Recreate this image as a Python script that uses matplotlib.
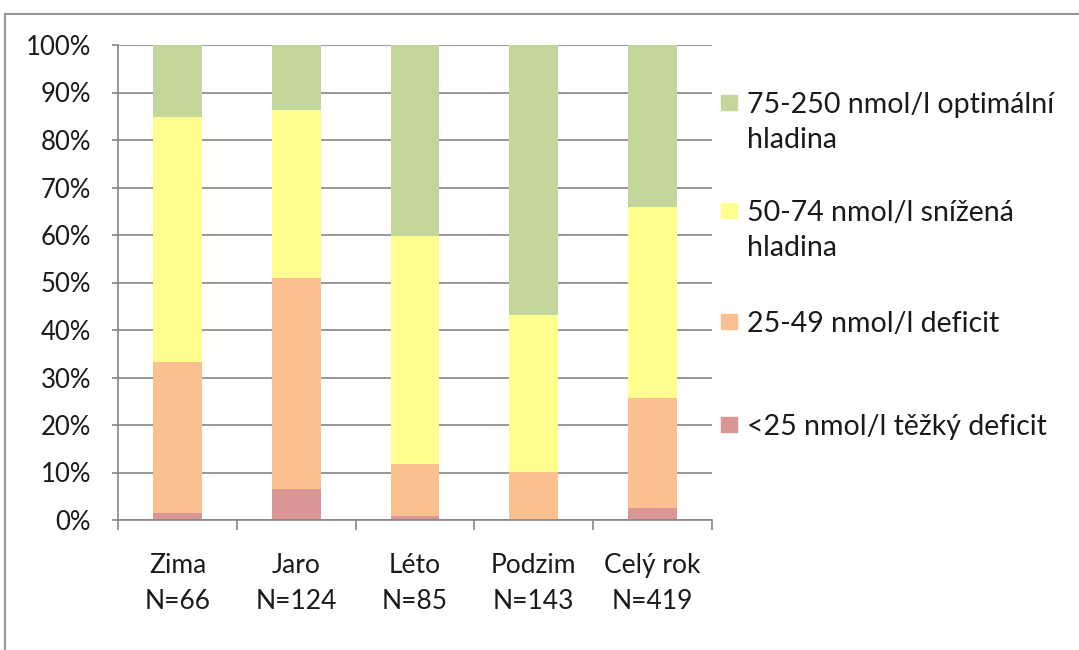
import matplotlib
matplotlib.use("Agg")
import matplotlib.pyplot as plt
import numpy as np
from matplotlib.patches import Rectangle

# Data (percent of samples per season)
categories = ["Zima\nN=66", "Jaro\nN=124", "Léto\nN=85", "Podzim\nN=143", "Celý rok\nN=419"]
severe = [1.5, 6.5, 0.8, 0.0, 2.6]
deficit = [31.8, 44.4, 10.9, 10.2, 23.1]
reduced = [51.5, 35.5, 48.0, 32.9, 40.3]
optimal = [15.2, 13.6, 40.3, 56.9, 34.0]

series = [severe, deficit, reduced, optimal]
labels = ["<25 nmol/l těžký deficit", "25-49 nmol/l deficit",
          "50-74 nmol/l snížená\nhladina", "75-250 nmol/l optimální\nhladina"]
colors = ["#D99694", "#FAC090", "#FFFF8F", "#C3D69B"]

plt.rcParams['font.family'] = ['Lato', 'DejaVu Sans']

fig = plt.figure(figsize=(10.79, 6.5), dpi=100)
ax = fig.add_axes([118 / 1079, 1 - 520 / 650, (712 - 118) / 1079, (520 - 45) / 650])

x = np.arange(len(categories))
bottom = np.zeros(len(categories))
for vals, col in zip(series, colors):
    ax.bar(x, vals, width=0.41, bottom=bottom, color=col, zorder=2)
    bottom += np.array(vals)

ax.set_xlim(-0.5, len(categories) - 0.5)
ax.set_ylim(0, 100)
ax.set_yticks(np.arange(0, 101, 10))
ax.set_yticklabels([f"{v}%" for v in range(0, 101, 10)], fontsize=18.5, color="#1a1a1a")
ax.yaxis.grid(True, color="#868686", linewidth=1.2, zorder=0)
ax.set_axisbelow(True)

ax.set_xticks(x)
ax.set_xticklabels(categories, fontsize=19, color="#1a1a1a", linespacing=1.55)
ax.set_xticks(np.arange(-0.5, len(categories)), minor=True)
ax.tick_params(axis='x', which='major', length=0, pad=24)
ax.tick_params(axis='x', which='minor', length=7, width=1.2, color="#868686", direction='out')
ax.tick_params(axis='y', length=4.5, width=1.2, color="#868686", pad=15)

for s in ["top", "right"]:
    ax.spines[s].set_visible(False)
for s in ["left", "bottom"]:
    ax.spines[s].set_color("#868686")
    ax.spines[s].set_linewidth(1.2)

# legend drawn by hand, top entry first; y = baseline of first line in pixels
leg_y = [113, 221, 332, 435]
for lab, col, yy in zip(labels[::-1], colors[::-1], leg_y):
    fig.add_artist(Rectangle((721 / 1079, 1 - (yy - 3) / 650), 16 / 1079, 15 / 650,
                             transform=fig.transFigure, color=col))
    for i, line in enumerate(lab.split("\n")):
        fig.text(747 / 1079, 1 - (yy + 35 * i) / 650, line, fontsize=20.5,
                 va='baseline', ha='left', color="#1a1a1a")

# chart frame
fig.add_artist(Rectangle((5 / 1079, -0.05), 1.1, 1 - 14 / 650 + 0.05, transform=fig.transFigure,
                         fill=False, edgecolor="#959595", linewidth=1.5))

fig.savefig("out.png", dpi=100)
